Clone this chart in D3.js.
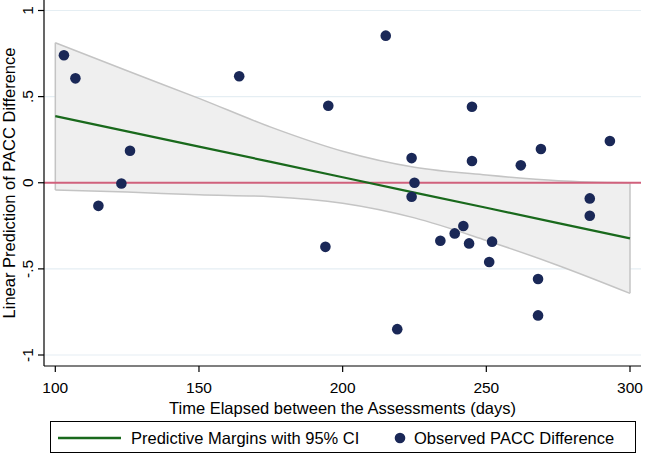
<!DOCTYPE html>
<html>
<head>
<meta charset="utf-8">
<script src="https://cdn.jsdelivr.net/npm/d3@7"></script>
<style>
  html, body { margin: 0; padding: 0; background: #fff; }
  svg { display: block; }
  text { font-family: "Liberation Sans", Arial, sans-serif; fill: #000; }
</style>
</head>
<body>
<svg id="chart" width="645" height="455"></svg>
<script>
// Observed PACC difference (days elapsed, value)
const obsDays = [103, 107, 115, 123, 126, 164, 195, 194, 215, 219, 224, 224, 225, 234, 239, 242, 244, 245, 245, 251, 252, 262, 268, 268, 269, 286, 286, 293];
const obsVals = [0.74, 0.606, -0.134, -0.004, 0.186, 0.618, 0.447, -0.372, 0.854, -0.85, 0.143, -0.081, 0.0, -0.337, -0.294, -0.251, -0.352, 0.441, 0.126, -0.46, -0.342, 0.101, -0.559, -0.77, 0.196, -0.091, -0.192, 0.242];

// Predictive margins with 95% CI
const marginDays = [100, 125, 150, 175, 200, 225, 250, 275, 300];
const marginFit = [0.387, 0.298, 0.210, 0.121, 0.032, -0.057, -0.145, -0.234, -0.323];
const marginUpper = [0.813, 0.65, 0.49, 0.323, 0.183, 0.09, 0.045, 0.012, 0.0];
const marginLower = [-0.042, -0.054, -0.07, -0.081, -0.119, -0.204, -0.335, -0.48, -0.642];

const xTicks = [100, 150, 200, 250, 300];
const yTicks = [-1, -0.5, 0, 0.5, 1];
const yTickLabels = ["-1", "-.5", "0", ".5", "1"];

const svg = d3.select("#chart");
const x = d3.scaleLinear().domain([100, 300]).range([55.3, 630]);
const y = d3.scaleLinear().domain([-1, 1]).range([355, 10.5]);
const plotLeft = 44, plotRight = 641, plotTop = 0, plotBottom = 366;

// gridlines
svg.append("g").selectAll("line").data(yTicks.filter(d => d !== 0)).join("line")
  .attr("x1", plotLeft).attr("x2", plotRight)
  .attr("y1", d => y(d)).attr("y2", d => y(d))
  .attr("stroke", "#e5eef3").attr("stroke-width", 1.2);

// CI band
const band = marginDays.map((d, i) => ({ d, lo: marginLower[i], hi: marginUpper[i], fit: marginFit[i] }));
svg.append("path").datum(band)
  .attr("d", d3.area().curve(d3.curveMonotoneX)
    .x(p => x(p.d)).y0(p => y(p.lo)).y1(p => y(p.hi)))
  .attr("fill", "#efefef").attr("stroke", "none");
const upperPath = d3.line().curve(d3.curveMonotoneX)(band.map(p => [x(p.d), y(p.hi)]));
const lowerPath = d3.line().curve(d3.curveMonotoneX)(band.map(p => [x(p.d), y(p.lo)]));
svg.append("path").attr("d", upperPath).attr("fill", "none").attr("stroke", "#c4c4c4").attr("stroke-width", 1.5);
svg.append("path").attr("d", lowerPath).attr("fill", "none").attr("stroke", "#c4c4c4").attr("stroke-width", 1.5);
[band[0], band[band.length - 1]].forEach(p => {
  svg.append("line").attr("x1", x(p.d)).attr("x2", x(p.d))
    .attr("y1", y(p.hi)).attr("y2", y(p.lo))
    .attr("stroke", "#c4c4c4").attr("stroke-width", 1.5);
});

// zero reference line
svg.append("line").attr("x1", plotLeft).attr("x2", plotRight)
  .attr("y1", y(0)).attr("y2", y(0))
  .attr("stroke", "#d0617c").attr("stroke-width", 2);

// fitted line
svg.append("path").datum(band)
  .attr("d", d3.line().x(p => x(p.d)).y(p => y(p.fit)))
  .attr("fill", "none").attr("stroke", "#19691c").attr("stroke-width", 2.2);

// points
svg.append("g").selectAll("circle").data(obsDays.map((d, i) => ({ d, v: obsVals[i] }))).join("circle")
  .attr("cx", p => x(p.d)).attr("cy", p => y(p.v)).attr("r", 5.3)
  .attr("fill", "#1a2857");

// axes lines
svg.append("line").attr("x1", plotLeft).attr("x2", plotLeft).attr("y1", plotTop).attr("y2", plotBottom)
  .attr("stroke", "#000").attr("stroke-width", 1.2);
svg.append("line").attr("x1", plotLeft).attr("x2", plotRight).attr("y1", plotBottom).attr("y2", plotBottom)
  .attr("stroke", "#000").attr("stroke-width", 1.2);

// y ticks
const yg = svg.append("g");
yTicks.forEach((t, i) => {
  yg.append("line").attr("x1", plotLeft - 6).attr("x2", plotLeft).attr("y1", y(t)).attr("y2", y(t))
    .attr("stroke", "#000").attr("stroke-width", 1.2);
  yg.append("text").attr("transform", `translate(33,${y(t)}) rotate(-90)`)
    .attr("text-anchor", "middle").attr("font-size", 15.5).text(yTickLabels[i]);
});
// x ticks
const xg = svg.append("g");
xTicks.forEach(t => {
  xg.append("line").attr("x1", x(t)).attr("x2", x(t)).attr("y1", plotBottom).attr("y2", plotBottom + 6)
    .attr("stroke", "#000").attr("stroke-width", 1.2);
  xg.append("text").attr("x", x(t)).attr("y", 392.5).attr("text-anchor", "middle")
    .attr("font-size", 15.5).text(t);
});

// titles
svg.append("text").attr("x", 342.5).attr("y", 414).attr("text-anchor", "middle")
  .attr("font-size", 16.5).text("Time Elapsed between the Assessments (days)");
svg.append("text").attr("transform", `translate(15,183) rotate(-90)`)
  .attr("text-anchor", "middle").attr("font-size", 16.5).text("Linear Prediction of PACC Difference");

// legend
svg.append("rect").attr("x", 50.5).attr("y", 421.5).attr("width", 585).attr("height", 31)
  .attr("fill", "#fff").attr("stroke", "#000").attr("stroke-width", 1);
svg.append("line").attr("x1", 58).attr("x2", 121).attr("y1", 438).attr("y2", 438)
  .attr("stroke", "#19691c").attr("stroke-width", 2.5);
svg.append("text").attr("x", 131).attr("y", 444).attr("font-size", 16.5).text("Predictive Margins with 95% CI");
svg.append("circle").attr("cx", 400).attr("cy", 438).attr("r", 5.3).attr("fill", "#1a2857");
svg.append("text").attr("x", 414).attr("y", 444).attr("font-size", 16.5).text("Observed PACC Difference");
</script>
</body>
</html>
